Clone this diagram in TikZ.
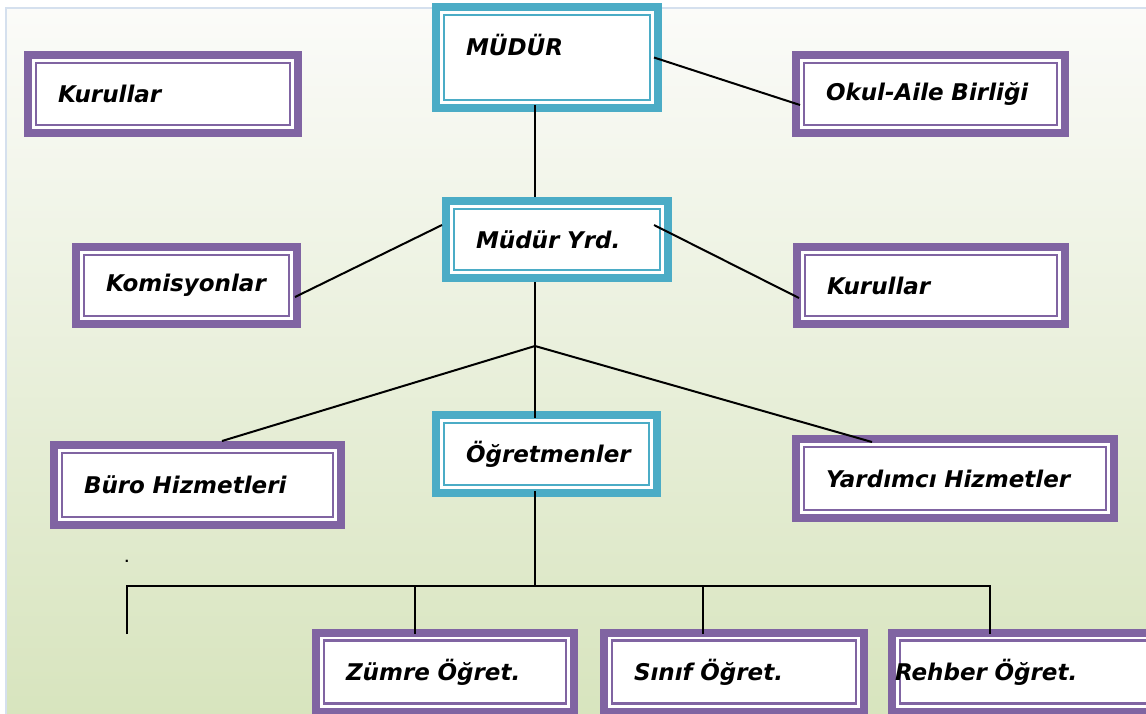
\documentclass[tikz,border=0pt]{standalone}
\usepackage{fontspec}
\setmainfont{DejaVu Sans}[ItalicFont={DejaVu Sans Oblique},BoldItalicFont={DejaVu Sans Bold Oblique}]
\definecolor{boxteal}{HTML}{4BACC6}
\definecolor{boxpurple}{HTML}{8064A2}
\definecolor{bgtop}{HTML}{FBFBF9}
\definecolor{bgmid}{HTML}{EDF2E1}
\definecolor{bggreen}{HTML}{D7E4BD}
\definecolor{frameblue}{HTML}{D5E0EE}
\newcommand\boxfont{\fontsize{23}{27}\selectfont\bfseries\itshape}

\begin{document}
\begin{tikzpicture}[x=1pt, y=-1pt, line width=2pt,
    box/.style={draw=#1, line width=8pt, fill=white, inner xsep=30pt, align=left, font=\boxfont,
      path picture={\draw[#1, line width=2.5pt] ([shift={(8pt,-8pt)}]path picture bounding box.north west) rectangle ([shift={(-8pt,8pt)}]path picture bounding box.south east);}},
    chief/.style={box=boxteal},
    unit/.style={box=boxpurple}]
    \useasboundingbox (0,0) rectangle (1146,713);
    \shade[top color=bgtop, middle color=bgmid, bottom color=bggreen] (6,8) rectangle (1160,725);
    \draw[frameblue] (6,725) -- (6,8) -- (1160,8);

    \node[chief, text width=162pt, minimum height=101, text depth=25pt] (mudur) at (547,57.5) {MÜDÜR};
    \node[unit, text width=210pt, minimum height=78] (kurul1) at (163,94) {Kurullar};
    \node[unit, text width=209pt, minimum height=78] (okul) at (930.5,94) {Okul-Aile Birliği};
    \node[chief, text width=162pt, minimum height=77] (myrd) at (557,239.5) {Müdür Yrd.};
    \node[unit, text width=161pt, minimum height=77] (komis) at (186.5,285.5) {Komisyonlar};
    \node[unit, text width=208pt, minimum height=77] (kurul2) at (931,285.5) {Kurullar};
    \node[chief, text width=161pt, minimum height=78] (ogret) at (546.5,454) {Öğretmenler};
    \node[unit, text width=227pt, minimum height=80] (buro) at (197.5,485) {Büro Hizmetleri};
    \node[unit, text width=258pt, minimum height=79] (yard) at (955,478.5) {Yardımcı Hizmetler};
    \node[unit, text width=198pt, minimum height=79] (zumre) at (445,672) {Zümre Öğret.};
    \node[unit, text width=200pt, minimum height=79] (sinif) at (734,672) {Sınıf Öğret.};
    \node[unit, inner xsep=3pt, text width=258pt, minimum height=79] (rehber) at (1024,672) {Rehber Öğret.};
    \node[font=\fontsize{12}{14}\selectfont\bfseries, inner sep=0pt] (dot) at (127,561) {.};

    \coordinate (j1) at (535,346);
    \coordinate (j2) at (535,586);
    \coordinate (bl) at (127,586);
    \coordinate (br) at (990,586);
    \coordinate (lend) at (127,634);

    \draw ([xshift=-8pt]mudur.east) -- ([xshift=8pt,yshift=-11pt]okul.west);
    \draw ([yshift=7pt]mudur.south -| j1) -- (myrd.north -| j1);
    \draw ([yshift=14.5pt]myrd.west) -- ([xshift=-6pt,yshift=-11.5pt]komis.east);
    \draw ([xshift=-18pt,yshift=14.5pt]myrd.east) -- ([xshift=6pt,yshift=-12.5pt]kurul2.west);
    \draw (myrd.south -| j1) -- ([yshift=-7pt]ogret.north -| j1);
    \draw ([xshift=24.5pt]buro.north) -- (j1) -- ([xshift=-83pt,yshift=-7pt]yard.north);
    \draw ([yshift=6pt]ogret.south -| j2) -- (j2);
    \draw[line width=2.5pt] (lend) -- (bl) -- (br) -- ([xshift=-34pt,yshift=-5pt]rehber.north);
    \draw ([xshift=-30pt,yshift=-5pt]zumre.north) -- ([xshift=-30pt]zumre.north |- bl);
    \draw ([xshift=-31pt,yshift=-5pt]sinif.north) -- ([xshift=-31pt]sinif.north |- bl);
\end{tikzpicture}
\end{document}
